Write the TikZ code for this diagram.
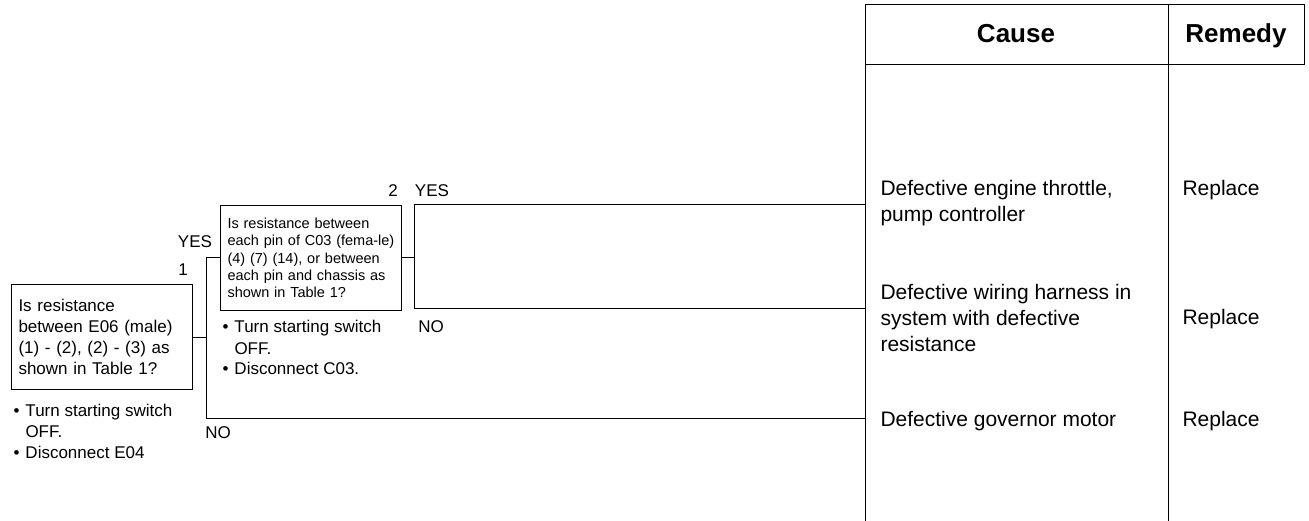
\documentclass[tikz,border=0pt]{standalone}
\usepackage{fontspec}
\setmainfont{Liberation Sans}
\usetikzlibrary{positioning}

\newcommand{\notelist}[2]{%
  \begin{tabular}[t]{@{}p{12pt}@{}l@{}}
    \textbullet & #1\\
    \textbullet & #2
  \end{tabular}}

\begin{document}
\begin{tikzpicture}[
  x=1pt, y=-1pt,
  line width=1pt,
  line join=miter,
  every node/.style={font=\fontsize{17}{21}\selectfont},
  question/.style={draw, line width=1pt, anchor=north west, align=left,
    inner sep=7pt, text width=167pt, minimum height=105pt},
  note/.style={anchor=base west, inner sep=0pt},
  branch/.style={inner sep=0pt},
  cause/.style={anchor=west, align=left, inner sep=0pt,
    font=\fontsize{21}{26}\selectfont},
  head/.style={anchor=base, inner sep=0pt, font=\bfseries\fontsize{26}{30}\selectfont}
]
  \useasboundingbox (0,0) rectangle (1309,521);

  % The checks
  \node[question] (q1) at (11,284)
    {Is resistance\\between E06 (male)\\(1) - (2), (2) - (3) as\\shown in Table 1?};
  \node[question, font=\fontsize{14.5}{17.4}\selectfont] (q2) at (220,205)
    {Is resistance between\\each pin of C03 (fema-le)\\(4) (7) (14), or between\\each pin and chassis as\\shown in Table 1?};

  \node[note] (n1) at (13,416) {\notelist{Turn starting switch\\ & OFF.}{Disconnect E04}};
  \node[note] (n2) at (222,333) {\notelist{Turn starting switch\\ & OFF.}{Disconnect C03.}};

  % The table
  \coordinate (tl) at (865,5);
  \coordinate (tr) at (1304,5);
  \coordinate (hl) at (865,65);
  \coordinate (hr) at (1304,65);
  \coordinate (bl) at (865,521);
  \coordinate (md) at (1168,5);
  \coordinate (mb) at (1168,521);

  \draw (bl) -- (tl) -- (tr) -- (hr) -- (hl);
  \draw (md) -- (mb);

  \node[head] (hcause) at (1016,43) {Cause};
  \node[head] (hremedy) at (1236,43) {Remedy};

  \node[cause] (c1) at (880,203) {Defective engine throttle,\\pump controller};
  \node[cause] (c2) at (880,318) {Defective wiring harness in\\system with defective\\resistance};
  \node[cause] (c3) at (880,421) {Defective governor motor};

  \foreach \y/\nm in {190/r1,319/r2,421/r3}{\node[cause] (\nm) at (1182,\y) {Replace};}

  % Branches
  \coordinate (j1) at (206,418);
  \coordinate (j2) at (414,205);
  \coordinate (j2b) at (414,309);
  \coordinate (e1) at (865,205);
  \coordinate (e2) at (865,309);
  \coordinate (e3) at (865,418);

  \draw (q1.east) -- (q1.east -| j1);
  \draw (q2.west) -| (j1) -- (e3);
  \draw (q2.east) -- (q2.east -| j2);
  \draw (e1) -- (j2) -- (j2b) -- (e2);

  \node[branch] (yes1) at (195,242) {YES};
  \node[branch] (num1) at (183,270) {1};
  \node[branch] (num2) at (393,191) {2};
  \node[branch] (yes2) at (432,191) {YES};
  \node[branch] (no2) at (431,327) {NO};
  \node[branch] (no1) at (218,433) {NO};
\end{tikzpicture}
\end{document}
